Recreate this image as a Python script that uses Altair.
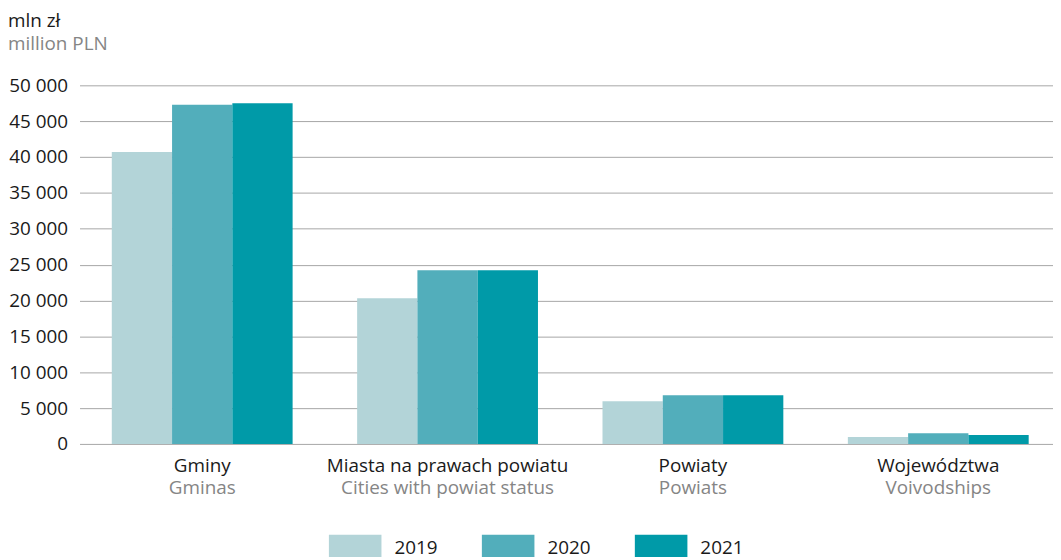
import altair as alt
import pandas as pd

cats_pl = ["Gminy", "Miasta na prawach powiatu", "Powiaty", "Województwa"]
cats_en = ["Gminas", "Cities with powiat status", "Powiats", "Voivodships"]
years = ["2019", "2020", "2021"]
v2019 = [40700, 20300, 5950, 950]
v2020 = [47300, 24200, 6800, 1500]
v2021 = [47500, 24200, 6800, 1250]
colors = ["#b3d4d8", "#52aebb", "#009aa8"]
y_ticks = [0, 5000, 10000, 15000, 20000, 25000, 30000, 35000, 40000, 45000, 50000]

rows = []
for yr, vals in zip(years, [v2019, v2020, v2021]):
    for c, v in zip(cats_pl, vals):
        rows.append({"cat": c, "year": yr, "value": v})
df = pd.DataFrame(rows)

FONT = "Open Sans"
FS = 19

en_expr = ""
for pl, en in zip(cats_pl, cats_en):
    en_expr += f"datum.value == '{pl}' ? '{en}' : "
en_expr += "''"

xscale = alt.Scale(paddingInner=0.263, paddingOuter=0.1315, rangeMin=0, rangeMax=988)

bars = alt.Chart(df).mark_bar().encode(
    x=alt.X("cat:N", sort=cats_pl, scale=xscale,
            axis=alt.Axis(title=None, labelAngle=0, labelColor="#1a1a1a", labelFontSize=FS,
                          labelPadding=13, ticks=False, domain=False, grid=False,
                          labelFont=FONT, orient="bottom", labelLimit=500)),
    xOffset=alt.XOffset("year:N", sort=years, scale=alt.Scale(paddingInner=0, paddingOuter=0)),
    y=alt.Y("value:Q", scale=alt.Scale(domain=[0, 50000]),
            axis=alt.Axis(title=None, values=y_ticks, ticks=False, domain=False,
                          grid=True, gridColor="#a6a6a6", gridWidth=1,
                          labelFontSize=FS, labelColor="#1a1a1a", labelPadding=12,
                          labelFont=FONT,
                          labelExpr="replace(format(datum.value, ','), ',', ' ')")),
    color=alt.Color("year:N", sort=years, scale=alt.Scale(domain=years, range=colors),
                    legend=alt.Legend(title=None, orient="none", legendX=251, legendY=439,
                                      direction="horizontal",
                                      symbolType="M-1,-0.5H1V0.5H-1Z", symbolSize=2800,
                                      symbolStrokeWidth=0, symbolOpacity=1,
                                      labelFontSize=FS, labelFont=FONT, labelColor="#1a1a1a",
                                      labelOffset=13, columnPadding=44)),
)

en_layer = alt.Chart(df).mark_point(opacity=0).encode(
    x=alt.X("cat:N", sort=cats_pl, scale=xscale,
            axis=alt.Axis(title=None, labelAngle=0, labelColor="#858585", labelFontSize=FS,
                          labelPadding=35, ticks=False, domain=False, grid=False,
                          labelFont=FONT, orient="bottom", labelExpr=en_expr, labelLimit=500)),
)

chart = alt.layer(bars, en_layer).resolve_axis(x="independent").properties(
    width=980, height=361,
    autosize=alt.AutoSizeParams(type="none"),
    padding={"left": 72, "top": 76, "right": 0, "bottom": 112},
    title=alt.Title("mln zł", subtitle="million PLN", anchor="start", frame="group",
                    dx=-72, offset=23, fontSize=FS, subtitleFontSize=FS,
                    font=FONT, subtitleFont=FONT, fontWeight="normal",
                    color="#1a1a1a", subtitleColor="#858585", subtitlePadding=4),
).configure_view(stroke=None)

chart.save("out.html", embed_options={"renderer": "svg", "actions": False})
